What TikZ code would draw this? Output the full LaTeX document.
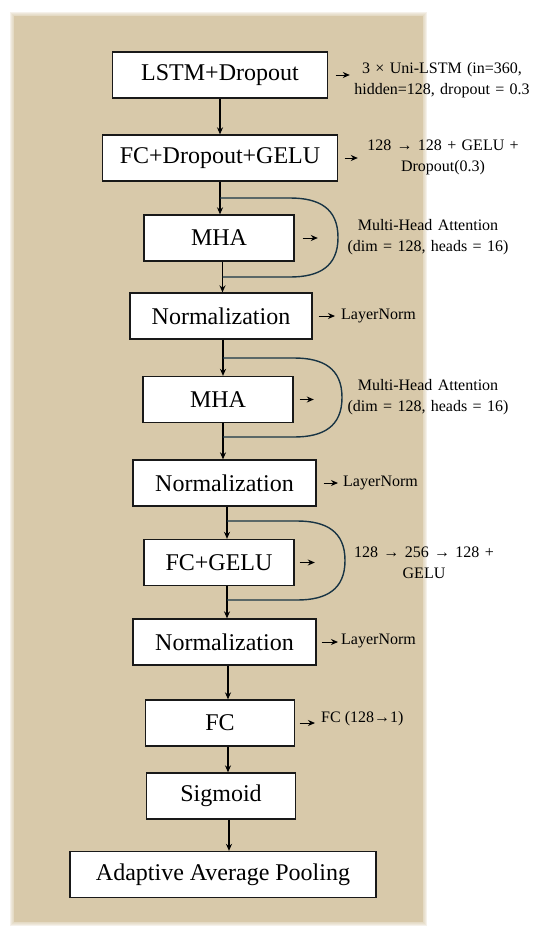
\documentclass[tikz,border=0pt]{standalone}
\usepackage{fontspec}
\usetikzlibrary{arrows.meta}
\newfontfamily\notefont{Liberation Serif}
\definecolor{paper}{RGB}{216,201,170}
\definecolor{loopline}{RGB}{24,52,68}
\begin{document}
\begin{tikzpicture}[>={Stealth[length=7pt,width=6pt]},x=1pt,y=-1pt]
        \tikzstyle{block}=[draw=black!90,fill=white,line width=1.3pt,minimum height=46pt,inner sep=0pt,font=\notefont\fontsize{24}{28}\selectfont]
        \tikzstyle{note}=[font=\notefont\fontsize{16}{21}\selectfont,align=center,inner sep=0pt]
        \tikzstyle{flow}=[->,line width=1.3pt]
        \tikzstyle{side}=[->,line width=1pt]
        \tikzstyle{skip}=[draw=loopline,line width=1.4pt]
        \useasboundingbox(0,0)rectangle(550,940);
        \foreach \d in {1,...,4}
            \fill[paper,opacity=0.25](14-\d,16-\d)rectangle(423+\d,922+\d);
        \fill[paper](14,16)rectangle(423,922);
        \node[block,minimum width=215pt](lstm) at (220,75){LSTM+Dropout};
        \node[block,minimum width=235pt](fcdg) at (220,158){FC+Dropout+GELU};
        \node[block,minimum width=150pt](mha1) at (219,238){MHA};
        \node[block,minimum width=182pt](norm1) at (221,316){Normalization};
        \node[block,minimum width=150pt](mha2) at (218,399.5){MHA};
        \node[block,minimum width=183pt](norm2) at (224.5,483){Normalization};
        \node[block,minimum width=150pt](fcg) at (219,562.5){FC+GELU};
        \node[block,minimum width=183pt](norm3) at (224.5,642){Normalization};
        \node[block,minimum width=149pt](fc) at (220,723){FC};
        \node[block,minimum width=149pt](sig) at (221,796){Sigmoid};
        \node[block,minimum width=306pt](pool) at (223,874.5){Adaptive Average Pooling};
        \node[note,text width=180pt](lstmnote) at (442,80){3 × Uni-LSTM (in=360,\\hidden=128, dropout = 0.3};
        \node[note,text width=160pt](fcdgnote) at (443,157){128 → 128 + GELU +\\Dropout(0.3)};
        \node[note,text width=166pt](mha1note) at (428,237.5){Multi-Head Attention\\(dim = 128, heads = 16)};
        \node[note,anchor=west](norm1note) at (341,316){LayerNorm};
        \node[note,text width=166pt](mha2note) at (428,397){Multi-Head Attention\\(dim = 128, heads = 16)};
        \node[note,anchor=west](norm2note) at (343,483){LayerNorm};
        \node[note,text width=150pt](fcgnote) at (424,563){128 → 256 → 128 +\\GELU};
        \node[note,anchor=west](norm3note) at (341,641){LayerNorm};
        \node[note,anchor=west](fcnote) at (321,719){FC (128→1)};
        \draw[flow](lstm.south)--(lstm.south |- fcdg.north);
        \draw[flow](fcdg.south)--(fcdg.south |- mha1.north);
        \draw[flow]([xshift=3.5pt]mha1.south)--([xshift=3.5pt]mha1.south |- norm1.north);
        \draw[flow]([xshift=2pt]norm1.south)--([xshift=2pt]norm1.south |- mha2.north);
        \draw[flow]([xshift=5pt]mha2.south)--([xshift=5pt]mha2.south |- norm2.north);
        \draw[flow]([xshift=2.5pt]norm2.south)--([xshift=2.5pt]norm2.south |- fcg.north);
        \draw[flow]([xshift=8pt]fcg.south)--([xshift=8pt]fcg.south |- norm3.north);
        \draw[flow]([xshift=3.5pt]norm3.south)--([xshift=3.5pt]norm3.south |- fc.north);
        \draw[flow]([xshift=8pt]fc.south)--([xshift=8pt]fc.south |- sig.north);
        \draw[flow]([xshift=8pt]sig.south)--([xshift=8pt]sig.south |- pool.north);
        \coordinate (m1a) at (220,198);
        \coordinate (m1b) at (222.5,277);
        \coordinate (m2a) at (223,358);
        \coordinate (m2b) at (223,437);
        \coordinate (m3a) at (227,521);
        \coordinate (m3b) at (227,600);
        \draw[skip](m1a)--(290,198)to[out=0,in=90,looseness=1.2](338,237.5)to[out=-90,in=0,looseness=1.2](290,277)--(m1b);
        \draw[skip](m2a)--(294,358)to[out=0,in=90,looseness=1.2](342,397.5)to[out=-90,in=0,looseness=1.2](294,437)--(m2b);
        \draw[skip](m3a)--(297,521)to[out=0,in=90,looseness=1.2](345,560.5)to[out=-90,in=0,looseness=1.2](297,600)--(m3b);
        \draw[side,shorten <=7.5pt,shorten >=2pt](lstm.east)--(lstm.east -| lstmnote.west);
        \draw[side,shorten <=6.5pt,shorten >=5pt](fcdg.east)--(fcdg.east -| fcdgnote.west);
        \draw[side,shorten <=8pt,shorten >=27pt](mha1.east)--(mha1.east -| mha1note.west);
        \draw[side,shorten <=6pt,shorten >=6pt](norm1.east)--(norm1.east -| norm1note.west);
        \draw[side,shorten <=6pt,shorten >=31pt](mha2.east)--(mha2.east -| mha2note.west);
        \draw[side,shorten <=7pt,shorten >=5pt](norm2.east)--(norm2.east -| norm2note.west);
        \draw[side,shorten <=5pt,shorten >=34pt](fcg.east)--(fcg.east -| fcgnote.west);
        \draw[side,shorten <=5pt,shorten >=3pt](norm3.east)--(norm3.east -| norm3note.west);
        \draw[side,shorten <=4.5pt,shorten >=6pt](fc.east)--(fc.east -| fcnote.west);
\end{tikzpicture}
\end{document}
